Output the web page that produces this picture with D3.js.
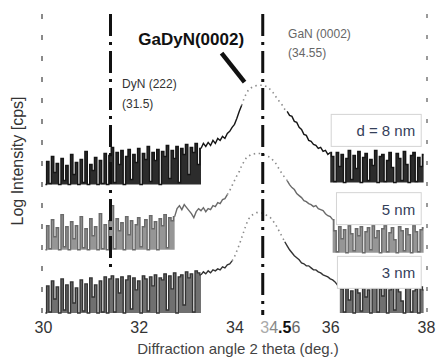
<!DOCTYPE html>
<html>
<head>
<meta charset="utf-8">
<script src="https://cdn.jsdelivr.net/npm/d3@7"></script>
<style>
  body { margin: 0; background: #fff; }
  svg { display: block; font-family: Arial, "Liberation Sans", sans-serif; }
</style>
</head>
<body>
<div class="container"></div>
<script>
// scan step (deg) for the noisy background parts
const step = 0.05

// d = 8 nm
const noise8Left = { start: 30.05, values: [13.0, 15.3, 13.1, 15.8, 14.2, 15.1, 13.0, 15.6, 13.4, 14.9, 13.0, 16.0, 14.0, 15.2, 13.0, 15.5, 13.2, 16.3, 13.0, 15.0, 14.4, 15.7, 13.0, 15.4, 13.1, 16.1, 13.0, 15.9,
  16.7, 13.2, 16.2, 15.0, 16.4, 13.0, 15.8, 16.5, 13.5, 16.0, 15.2, 16.6, 13.0, 16.1, 15.5, 16.8, 13.3, 16.2, 15.4, 16.5, 13.0, 16.3, 15.8, 16.9, 13.6, 16.4, 15.6, 16.8, 13.2, 16.6, 16.0, 17.0, 14.0, 16.7, 16.2, 17.1, 15.0] }
const peak8 = [[33.30, 16.6], [33.35, 17.1], [33.40, 16.8], [33.45, 17.2], [33.50, 16.9], [33.55, 17.4], [33.60, 17.1], [33.65, 17.6], [33.70, 17.4], [33.75, 17.8], [33.80, 17.6], [33.85, 18.1], [33.90, 18.3], [33.95, 18.7], [34.00, 19.0], [34.05, 19.6], [34.10, 20.3], [34.15, 20.9], [34.20, 21.6], [34.25, 22.1], [34.30, 22.5], [34.40, 22.8], [34.50, 22.9], [34.60, 22.9], [34.70, 22.7], [34.80, 22.2], [34.90, 21.5], [35.00, 20.9], [35.05, 20.5], [35.10, 20.3], [35.15, 19.9], [35.20, 19.8], [35.25, 19.3], [35.30, 19.2], [35.35, 18.7], [35.40, 18.5], [35.45, 18.0], [35.50, 17.9], [35.55, 17.4], [35.60, 17.3], [35.65, 17.0], [35.70, 16.9], [35.75, 16.6], [35.80, 16.7], [35.85, 16.3], [35.90, 16.4], [35.95, 16.0], [36.00, 16.2]]
const noise8Right = { start: 36.05, values: [15.8, 13.3, 16.2, 14.8, 16.0, 13.2, 15.6, 16.4, 13.5, 15.9, 14.6, 16.3, 13.2, 15.7, 16.1, 13.4, 15.5, 14.9, 16.4, 13.2, 15.8, 16.0, 13.3, 15.4, 16.2, 14.7, 13.2, 16.1, 15.6, 13.4, 16.3, 15.0, 13.2, 15.9, 16.2, 13.3, 15.7, 14.8, 16.0] }

// 5 nm
const noise5Left = { start: 30.05, values: [6.5, 8.9, 6.6, 9.5, 7.8, 8.7, 6.5, 10.0, 6.8, 8.8, 6.5, 9.3, 7.6, 8.9, 6.5, 9.8, 6.7, 8.6, 6.5, 9.6, 7.9, 8.8, 6.5, 10.1, 6.6, 9.0, 6.5, 9.4,
  10.9, 6.6, 9.6, 8.4, 9.2, 6.5, 9.8, 8.0, 9.4, 6.5, 9.0, 9.7, 6.8, 8.8, 9.5, 6.5, 9.9, 8.6, 9.3, 6.5, 9.6, 8.9, 10.0, 6.7, 9.7, 9.4] }
const peak5 = [[32.75, 9.8], [32.80, 10.6], [32.85, 10.9], [32.90, 10.5], [32.95, 11.0], [33.00, 10.7], [33.05, 10.4], [33.10, 10.1], [33.15, 9.7], [33.20, 10.3], [33.25, 10.6], [33.30, 10.4], [33.35, 10.7], [33.40, 10.3], [33.45, 10.6], [33.50, 10.5], [33.55, 10.9], [33.60, 10.8], [33.65, 11.2], [33.70, 11.1], [33.75, 11.5], [33.80, 11.6], [33.85, 12.0], [33.90, 12.4], [33.95, 12.9], [34.00, 13.4], [34.05, 13.9], [34.10, 14.3], [34.15, 14.9], [34.20, 15.3], [34.25, 15.7], [34.35, 16.0], [34.45, 16.1], [34.55, 16.1], [34.65, 15.9], [34.75, 15.7], [34.85, 15.2], [34.95, 14.4], [35.05, 13.7], [35.10, 13.4], [35.15, 13.0], [35.20, 12.7], [35.25, 12.5], [35.30, 12.1], [35.35, 11.9], [35.40, 11.7], [35.45, 11.4], [35.50, 11.3], [35.55, 11.1], [35.60, 11.0], [35.65, 10.8], [35.70, 10.9], [35.75, 10.6], [35.80, 10.5], [35.85, 10.4], [35.90, 10.1], [35.95, 9.9], [36.00, 9.8], [36.05, 9.5]]
const noise5Right = { start: 36.10, values: [8.4, 6.3, 8.8, 7.6, 8.5, 6.2, 8.9, 8.1, 6.4, 8.6, 7.9, 8.8, 6.2, 8.3, 8.7, 6.5, 8.9, 7.7, 8.4, 6.2, 8.6, 8.9, 6.3, 8.2, 8.7, 7.5, 6.2, 8.8, 8.4, 6.4, 8.6, 8.0, 6.2, 8.9, 8.3, 6.3, 8.5, 8.7] }

// 3 nm
const noise3Left = { start: 30.05, values: [0.2, 2.9, 0.3, 3.4, 1.6, 2.8, 0.2, 3.6, 0.5, 3.0, 0.2, 3.3, 1.2, 2.7, 0.2, 3.5, 0.4, 3.1, 0.2, 3.7, 1.8, 3.0, 0.2, 3.4, 0.3, 3.8, 0.2, 3.6,
  3.9, 0.3, 3.6, 2.2, 3.8, 0.2, 3.5, 3.9, 0.6, 3.7, 2.5, 3.4, 0.2, 3.9, 3.6, 0.4, 3.8, 2.9, 4.0, 0.2, 3.7, 3.5, 4.1, 0.5, 3.9, 2.6, 4.2, 0.2, 3.8, 4.0, 1.0, 4.3, 3.7, 4.1, 0.3, 4.4, 4.2] }
const peak3 = [[33.30, 4.0], [33.35, 4.3], [33.40, 4.1], [33.45, 4.4], [33.50, 4.2], [33.55, 4.5], [33.60, 4.4], [33.65, 4.6], [33.70, 4.5], [33.75, 4.8], [33.80, 4.7], [33.85, 5.0], [33.90, 5.1], [33.95, 5.4], [34.00, 5.8], [34.05, 6.4], [34.10, 7.0], [34.15, 7.7], [34.20, 8.4], [34.25, 9.1], [34.30, 9.6], [34.38, 10.0], [34.46, 10.2], [34.55, 10.2], [34.65, 10.0], [34.75, 9.7], [34.85, 9.1], [34.95, 8.2], [35.05, 7.3], [35.10, 6.9], [35.15, 6.5], [35.20, 6.2], [35.25, 5.9], [35.30, 5.7], [35.35, 5.5], [35.40, 5.2], [35.45, 5.1], [35.50, 4.9], [35.55, 4.9], [35.60, 4.7], [35.65, 4.5], [35.70, 4.5], [35.75, 4.3], [35.80, 4.2], [35.85, 4.0], [35.90, 3.9], [35.95, 3.8], [36.00, 3.6], [36.05, 3.5], [36.10, 3.3], [36.15, 3.0], [36.20, 2.8]]
const noise3Right = { start: 36.25, values: [2.6, 0.3, 2.9, 1.5, 2.4, 0.2, 3.0, 2.2, 0.4, 2.7, 1.8, 2.5, 0.2, 2.8, 3.1, 0.3, 2.6, 1.9, 2.9, 0.2, 2.5, 2.8, 0.5, 3.0, 2.3, 1.4, 0.2, 2.7, 2.9, 0.3, 2.4, 2.6, 0.2, 2.8, 2.5] }

const seriesNames = ['d = 8 nm', '5 nm', '3 nm']
const seriesColors = ['#151515', '#6a6a6a', '#333333']
const bandOpacity = [0.9, 0.7, 0.7]
// part of each peak that came out faint / dotted in the scan
const fadeFrom = [34.15, 33.85, 33.95]
const fadeTo = [35.10, 35.10, 35.05]
// where the boxed labels sit (log units)
const labelLevel = [18.4, 10.6, 4.25]
const labelLeft = [36.02, 36.13, 36.15]

const xTicks = [30, 32, 34, 36, 38]
const refLines = [31.41, 34.59]   // DyN(222), GaN(0002)
const refLineBottom = [4.5, 0]

let width = 436
let height = 361

let xScale = d3.scaleLinear().domain([30, 38]).range([43, 426])
let yScale = d3.scaleLinear().domain([0, 30]).range([315, 14])

function unroll(seg) {
    return seg.values.map((v, i) => [+(seg.start + i * step).toFixed(2), v])
}

let series = [
    [unroll(noise8Left), peak8, unroll(noise8Right)],
    [unroll(noise5Left), peak5, unroll(noise5Right)],
    [unroll(noise3Left), peak3, unroll(noise3Right)]
]

let svg = d3.select('.container')
    .append('svg')
    .attr('width', width)
    .attr('height', height)

svg.append('rect').attr('width', width).attr('height', height).attr('fill', '#fff')

// faint side frame
svg.append('line')
    .attr('x1', xScale(30) - 1).attr('x2', xScale(30) - 1)
    .attr('y1', yScale(30)).attr('y2', yScale(0))
    .attr('stroke', '#8a8a8a').attr('stroke-width', 2)
    .attr('stroke-dasharray', '5,16')
svg.append('line')
    .attr('x1', xScale(38) + 1).attr('x2', xScale(38) + 1)
    .attr('y1', yScale(30)).attr('y2', yScale(0))
    .attr('stroke', '#9a9a9a').attr('stroke-width', 2)
    .attr('stroke-dasharray', '4,17')

let stepLine = d3.line()
    .curve(d3.curveStep)
    .x(d => xScale(d[0]))
    .y(d => yScale(d[1]))

let smoothLine = d3.line()
    .x(d => xScale(d[0]))
    .y(d => yScale(d[1]))

series.forEach(([left, peak, right], i) => {
    let color = seriesColors[i]
    // noisy background, drawn as counts per step
    let bgLeft = left.concat([peak[0]])
    let bgRight = [peak[peak.length - 1]].concat(right)
    ;[bgLeft, bgRight].forEach(seg => {
        let floor = d3.min(seg, d => d[1])
        let band = d3.area()
            .curve(d3.curveStep)
            .x(d => xScale(d[0]))
            .y0(yScale(floor))
            .y1(d => yScale(d[1]))
        svg.append('path')
            .datum(seg)
            .attr('fill', color)
            .attr('fill-opacity', bandOpacity[i])
            .attr('d', band)
        svg.append('path')
            .datum(seg)
            .attr('fill', 'none')
            .attr('stroke', color)
            .attr('stroke-width', 1.4)
            .attr('d', stepLine)
    })

    svg.append('path')
        .datum(peak)
        .attr('fill', 'none')
        .attr('stroke', color)
        .attr('stroke-width', 1.4)
        .attr('d', smoothLine.defined(d => d[0] <= fadeFrom[i] || d[0] >= fadeTo[i]))

    svg.append('path')
        .datum(peak.filter(d => d[0] >= fadeFrom[i] && d[0] <= fadeTo[i]))
        .attr('fill', 'none')
        .attr('stroke', '#8c8c8c')
        .attr('stroke-width', 1.6)
        .attr('stroke-dasharray', '1.5,3.5')
        .attr('d', d3.line().x(d => xScale(d[0])).y(d => yScale(d[1])))
})

// reference peak positions
svg.selectAll('.ref')
    .data(refLines)
    .enter()
    .append('line')
    .attr('class', 'ref')
    .attr('x1', d => xScale(d)).attr('x2', d => xScale(d))
    .attr('y1', yScale(30))
    .attr('y2', (d, i) => yScale(refLineBottom[i]))
    .attr('stroke', '#111')
    .attr('stroke-width', 3)
    .attr('stroke-dasharray', '22,6,3,6')

// boxed thickness labels
labelLevel.forEach((lv, i) => {
    let x0 = xScale(labelLeft[i])
    let x1 = xScale(37.9)
    svg.append('rect')
        .attr('x', x0).attr('y', yScale(lv) - 16)
        .attr('width', x1 - x0).attr('height', 32)
        .attr('fill', '#fff')
        .attr('stroke', '#d4d4d4')
    svg.append('text')
        .attr('x', x1 - 6).attr('y', yScale(lv) + 6)
        .attr('text-anchor', 'end')
        .attr('font-size', 15)
        .attr('fill', '#34405a')
        .text(seriesNames[i])
})

// annotations
svg.append('text')
    .attr('x', xScale(31.99)).attr('y', yScale(26.9))
    .attr('font-size', 17).attr('font-weight', 'bold').attr('fill', '#111')
    .text('GaDyN(0002)')
svg.append('line')
    .attr('x1', xScale(33.73)).attr('y1', yScale(26.1))
    .attr('x2', xScale(34.21)).attr('y2', yScale(23.2))
    .attr('stroke', '#111').attr('stroke-width', 4.5)

svg.append('text')
    .attr('x', xScale(31.65)).attr('y', yScale(22.6))
    .attr('font-size', 12).attr('fill', '#333')
    .text('DyN (222)')
svg.append('text')
    .attr('x', xScale(31.65)).attr('y', yScale(20.6))
    .attr('font-size', 12).attr('fill', '#333')
    .text('(31.5)')
svg.append('text')
    .attr('x', xScale(35.12)).attr('y', yScale(27.6))
    .attr('font-size', 12).attr('fill', '#666')
    .text('GaN (0002)')
svg.append('text')
    .attr('x', xScale(35.12)).attr('y', yScale(25.7))
    .attr('font-size', 12).attr('fill', '#666')
    .text('(34.55)')

// x axis
let xAxis = d3.axisBottom(xScale)
    .tickValues(xTicks)
    .tickFormat(d3.format('d'))
    .tickSize(0)
    .tickPadding(7)

let gx = svg.append('g')
    .attr('transform', `translate(0,${yScale(0)})`)
    .call(xAxis)
gx.select('.domain').remove()
gx.selectAll('text')
    .attr('font-size', 16)
    .attr('font-family', 'Arial, "Liberation Sans", sans-serif')
    .attr('fill', '#333')

let peakLabel = svg.append('text')
    .attr('x', xScale(34.56) + 19).attr('y', yScale(0) + 18)
    .attr('text-anchor', 'middle')
    .attr('font-size', 16)
    .attr('fill', '#444')
peakLabel.append('tspan').attr('fill', '#aaa').text('3')
peakLabel.append('tspan').attr('fill', '#888').text('4')
peakLabel.append('tspan').attr('fill', '#111').attr('font-weight', 'bold').text('.5')
peakLabel.append('tspan').attr('fill', '#666').text('6')

svg.append('text')
    .attr('x', 238).attr('y', 354)
    .attr('text-anchor', 'middle')
    .attr('font-size', 15)
    .attr('fill', '#444')
    .text('Diffraction angle 2 theta (deg.)')

svg.append('text')
    .attr('transform', 'translate(23,161) rotate(-90)')
    .attr('text-anchor', 'middle')
    .attr('font-size', 16)
    .attr('fill', '#333')
    .text('Log Intensity [cps]')
</script>
</body>
</html>
